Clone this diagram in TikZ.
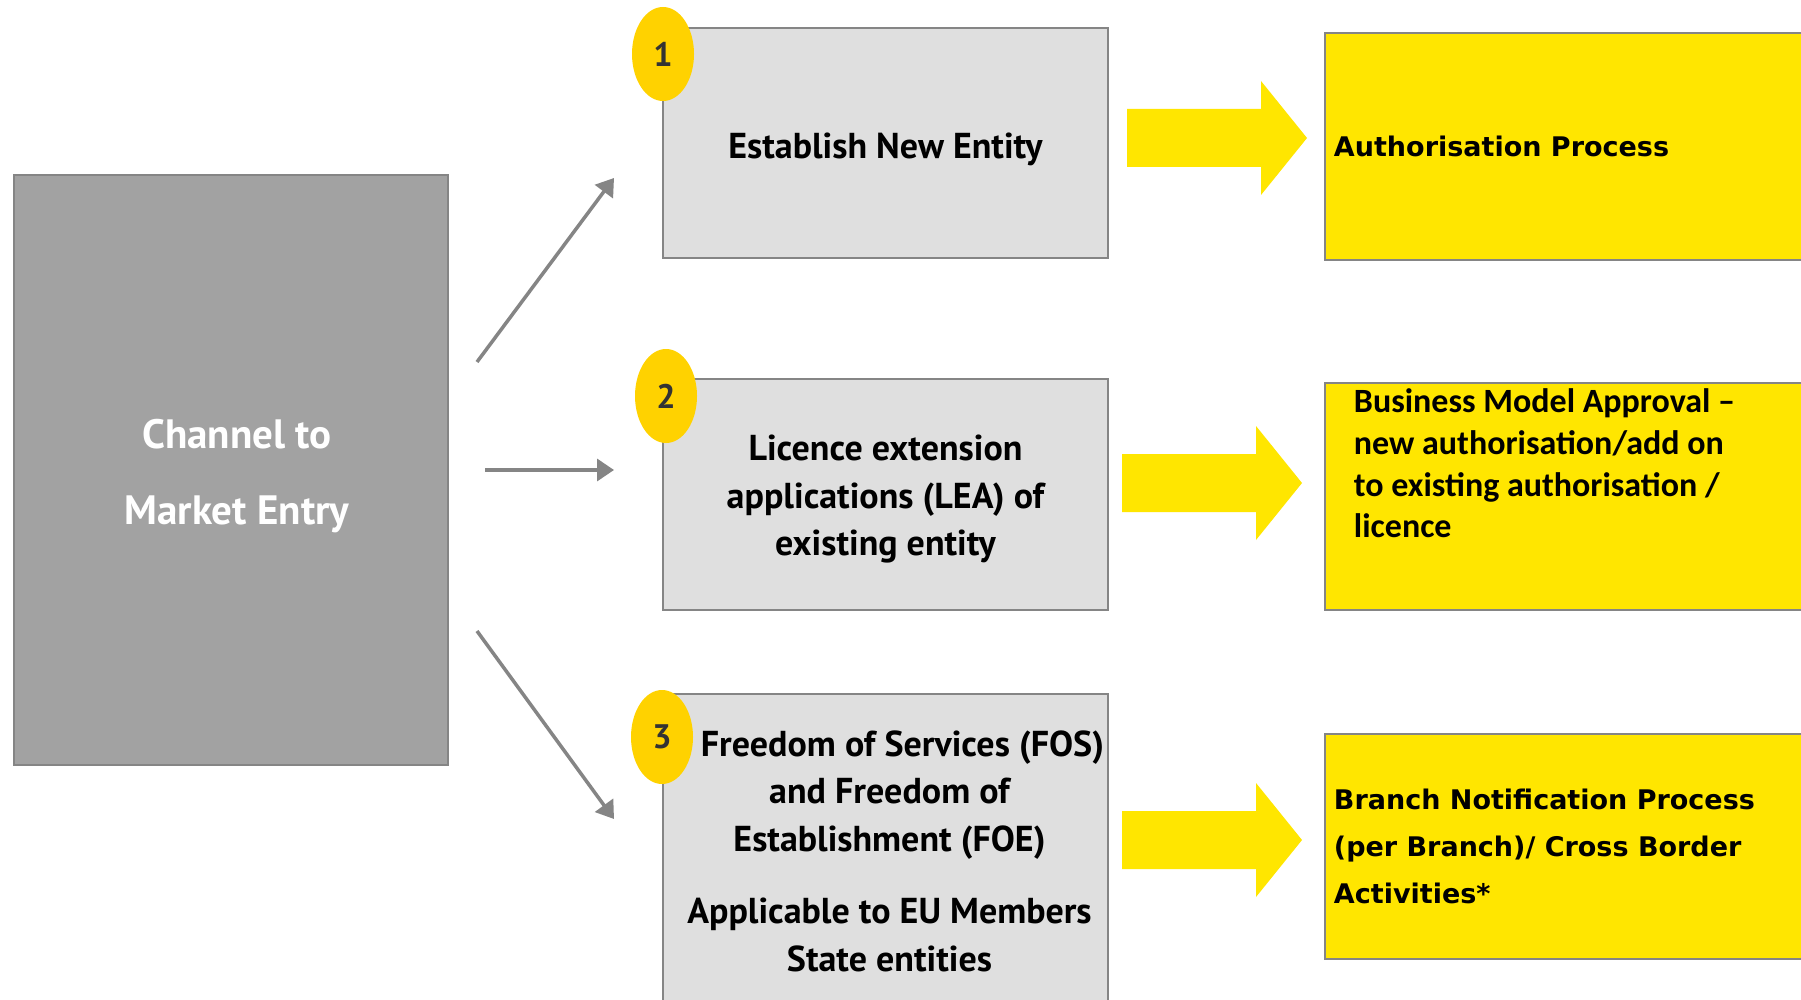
\documentclass[tikz,border=0pt]{standalone}
\usepackage{fontspec}
\setmainfont{PT Sans}
\newfontfamily\widefont{DejaVu Sans}
\newfontfamily\calfont{Carlito}
\usetikzlibrary{arrows.meta,shapes.geometric}
\definecolor{boxgrey}{HTML}{A2A2A2}
\definecolor{palegrey}{HTML}{DFDFDF}
\definecolor{edgegrey}{HTML}{858585}
\definecolor{eyyellow}{HTML}{FFE600}
\definecolor{bulletgold}{HTML}{FFD200}
\tikzset{every picture/.style={
  >={Triangle[length=17pt,width=22pt]}   % Filled triangle heads.
  }
}
% #1 = name of the tail point, #2 = where the tail sits.
\newcommand{\blockarrow}[2]{%
  \coordinate (#1) at (#2);
  \fill[eyyellow] (#1) ++(0,-29) -- ++(134,0) -- ++(0,-28) -- ++(46,57)
    -- ++(-46,57) -- ++(0,-28) -- ++(-134,0) -- cycle;}

\begin{document}
\begin{tikzpicture}[x=1pt,y=-1pt,
  channel/.style={draw=edgegrey,line width=2.5pt,fill=boxgrey,
    minimum width=434,minimum height=590},
  chantext/.style={text=white,align=center,
    font=\fontsize{41}{76}\selectfont\bfseries},
  route/.style={draw=edgegrey,line width=2.5pt,fill=palegrey,minimum width=445},
  routetext/.style={align=center,font=\fontsize{36}{47.5}\selectfont\bfseries},
  outcome/.style={draw=edgegrey,line width=2.5pt,fill=eyyellow,minimum width=505},
  badge/.style={ellipse,fill=bulletgold,minimum width=62,minimum height=94,
    inner sep=0pt,text=black!80,font=\fontsize{34}{34}\selectfont\bfseries},
  widetext/.style={inner sep=0pt,align=left,
    font=\widefont\fontsize{27}{47}\selectfont\bfseries},
  caltext/.style={inner sep=0pt,align=left,
    font=\calfont\fontsize{34}{41.7}\selectfont\bfseries},
  link/.style={->,draw=edgegrey,line width=3.5pt}]
  \useasboundingbox (0,0) rectangle (1801,1000);
  \fill[white] (0,0) rectangle (1801,1000);
  \clip (0,0) rectangle (1801,1000);

  \node[channel] (chan) at (231,470) {};
  \node[chantext] (chantxt) at ([xshift=6pt,yshift=-6pt]chan.center)
    {Channel to\\Market Entry};

  % the three routes
  \node[route,minimum height=230] (newent) at (885.5,143) {};
  \node[route,minimum height=231] (lea) at (885.5,494.5) {};
  \node[route,minimum height=314] (fos) at (885.5,851) {};
  \node[routetext] (newtxt) at ([yshift=-6pt]newent.center) {Establish New Entity};
  \node[routetext] (leatxt) at ([yshift=-5pt]lea.center)
    {Licence extension\\applications (LEA) of\\existing entity};
  \node[routetext] (fostxt) at ([xshift=4pt]fos.center)
    {\hspace*{26pt}Freedom of Services (FOS)\\and Freedom of\\Establishment (FOE)\\[25pt]
     Applicable to EU Members\\State entities};
  \node[badge] (b1) at (663,54) {1};
  \node[badge] (b2) at (666,396) {2};
  \node[badge] (b3) at (662,737) {3};

  % what each route leads to
  \node[outcome,minimum height=227] (authbox) at (1577.5,146.5) {};
  \node[outcome,minimum height=227] (bmabox) at (1577.5,496.5) {};
  \node[outcome,minimum height=225] (branchbox) at (1577.5,846.5) {};
  \node[widetext,anchor=west] (authtxt) at ([xshift=10pt]authbox.west)
    {Authorisation Process};
  \node[caltext,anchor=north west] (bmatxt)
    at ([xshift=30pt,yshift=-7pt]bmabox.north west)
    {Business Model Approval –\\new authorisation/add on\\
     to existing authorisation /\\licence};
  \node[widetext,anchor=west] (branchtxt) at ([xshift=10pt]branchbox.west)
    {Branch Notification Process\\(per Branch)/ Cross Border\\Activities*};

  \blockarrow{ya1}{1127,138}
  \blockarrow{ya2}{1122,483}
  \blockarrow{ya3}{1122,840}

  \coordinate (up0) at (477,362);
  \coordinate (up1) at (614,178);
  \coordinate (mid0) at (485,470);
  \coordinate (mid1) at (614,470);
  \coordinate (low0) at (477,631);
  \coordinate (low1) at (614,819);
  \draw[link] (up0) -- (up1);
  \draw[link] (mid0) -- (mid1);
  \draw[link] (low0) -- (low1);
\end{tikzpicture}
\end{document}
